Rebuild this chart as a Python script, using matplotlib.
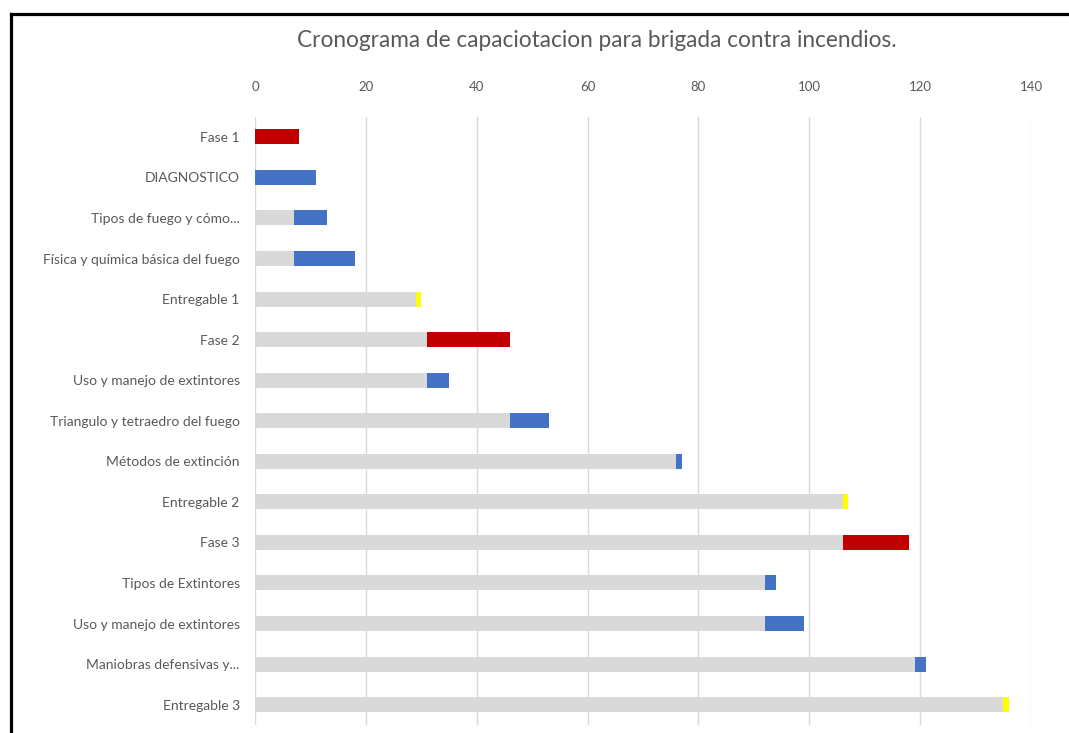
"""Gantt-style schedule: grey offset bar + coloured duration bar per task."""

import matplotlib

matplotlib.use("Agg")
import matplotlib.pyplot as plt
from matplotlib.lines import Line2D

tasks = [
    "Fase 1",
    "DIAGNOSTICO",
    "Tipos de fuego y cómo...",
    "Física y química básica del fuego",
    "Entregable 1",
    "Fase 2",
    "Uso y manejo de extintores",
    "Triangulo y tetraedro del fuego",
    "Métodos de extinción",
    "Entregable 2",
    "Fase 3",
    "Tipos de Extintores",
    "Uso y manejo de extintores",
    "Maniobras defensivas y...",
    "Entregable 3",
]
start = [0, 0, 7, 7, 29, 31, 31, 46, 76, 106, 106, 92, 92, 119, 135]
duration = [8, 11, 6, 11, 1, 15, 4, 7, 1, 1, 12, 2, 7, 2, 1]
kind = ["fase", "tema", "tema", "tema", "entregable",
        "fase", "tema", "tema", "tema", "entregable",
        "fase", "tema", "tema", "tema", "entregable"]
x_ticks = [0, 20, 40, 60, 80, 100, 120, 140]

KIND_COLORS = {"fase": "#C00000", "tema": "#4472C4", "entregable": "#FFFF00"}
TEXT = "#595959"

plt.rcParams["font.family"] = ["Lato", "DejaVu Sans"]

fig = plt.figure(figsize=(10.69, 7.33), dpi=100)
ax = fig.add_axes([0.2385, 0.011, 0.726, 0.830])

rows = list(range(len(tasks)))
ax.barh(rows, start, height=0.37, color="#D9D9D9", zorder=2)
ax.barh(rows, duration, left=start, height=0.37,
        color=[KIND_COLORS[k] for k in kind], zorder=3)

ax.set_xlim(0, 140)
ax.set_ylim(len(tasks) - 0.5, -0.5)
ax.set_xticks(x_ticks)
ax.set_yticks(rows, tasks)
ax.xaxis.tick_top()
ax.tick_params(axis="x", length=0, pad=17, labelsize=9.5, labelcolor=TEXT)
ax.tick_params(axis="y", length=0, pad=11, labelsize=10, labelcolor=TEXT)
ax.grid(axis="x", color="#D9D9D9", linewidth=1.0, zorder=0)
ax.set_axisbelow(True)
for spine in ax.spines.values():
    spine.set_visible(False)

fig.text(0.5585, 0.945, "Cronograma de capaciotacion para brigada contra incendios.",
         ha="center", va="center", fontsize=16.3, color=TEXT)

# page border (top and left edges only, as cropped in the reference)
fig.add_artist(Line2D([10.5 / 1069, 1.0], [1 - 14 / 733, 1 - 14 / 733],
                      transform=fig.transFigure, color="black", linewidth=2.3))
fig.add_artist(Line2D([10.5 / 1069, 10.5 / 1069], [1 - 14 / 733, 0.0],
                      transform=fig.transFigure, color="black", linewidth=2.3))

fig.savefig("out.png", dpi=100)
